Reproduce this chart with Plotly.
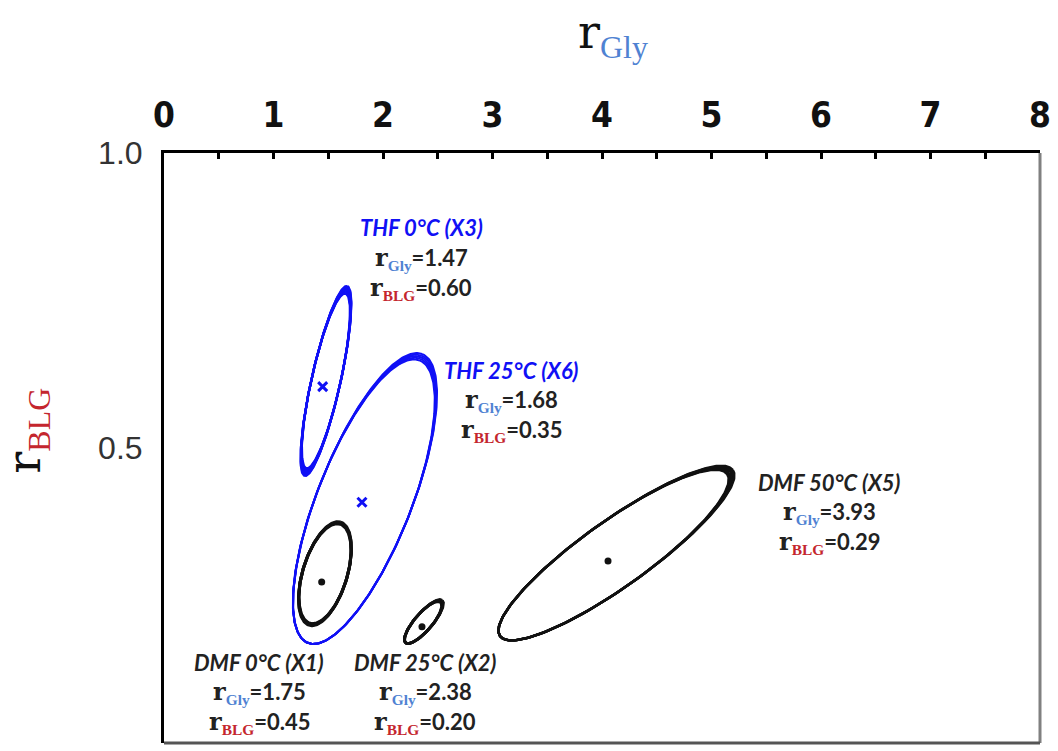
import numpy as np
import plotly.graph_objects as go

# ---------------- data ----------------
sample_names = ["THF 0°C (X3)", "THF 25°C (X6)", "DMF 0°C (X1)", "DMF 25°C (X2)", "DMF 50°C (X5)"]
solvent = ["THF", "THF", "DMF", "DMF", "DMF"]

# confidence-ellipse geometry (data units): centre, half major vector, half conjugate vector
ell_cx = [1.479, 1.836, 1.470, 2.374, 4.132]
ell_cy = [0.6136, 0.4144, 0.287, 0.2059, 0.322]
ell_major_dx = [0.1933, 0.5221, 0.1440, 0.1675, 1.0632]
ell_major_dy = [0.1609, 0.2448, 0.08745, 0.0360, 0.14075]
ell_minor_dx = [-0.1297, -0.3997, -0.1944, -0.0604, -0.1750]
ell_minor_dy = [0.00537, 0.02937, 0.01103, 0.00966, 0.04554]

# point estimates (marker positions)
point_x = [1.449, 1.808, 1.44, 2.356, 4.055]
point_y = [0.604, 0.408, 0.273, 0.197, 0.3085]

# printed reactivity ratios
r_gly = ["1.47", "1.68", "1.75", "2.38", "3.93"]
r_blg = ["0.60", "0.35", "0.45", "0.20", "0.29"]

x_ticks = [0, 1, 2, 3, 4, 5, 6, 7, 8]
y_ticks = [0.0, 0.5, 1.0]

# ---------------- styling ----------------
BLUE = "#1010f5"
BLACK = "#111111"
GLY_C = "#4f82d2"
BLG_C = "#c4262e"
TEXT_C = "#222222"

# band style per ellipse: (mode, min scale, n copies, line width)
band = [
    ("sym", 0.92, 8, 2.2),
    ("pivot", 0.978, 5, 2.0),
    ("sym", 0.96, 4, 3.0),
    ("pivot", 0.95, 5, 2.8),
    ("pivot", 0.975, 6, 2.4),
]

fig = go.Figure()
t = np.linspace(0, 2 * np.pi, 300)

for i in range(len(sample_names)):
    col = BLUE if solvent[i] == "THF" else BLACK
    mode, smin, n, lw = band[i]
    for s in np.linspace(smin, 1.0, n):
        if mode == "sym":
            cx, cy = ell_cx[i], ell_cy[i]
        else:
            cx = ell_cx[i] + (s - 1) * ell_major_dx[i]
            cy = ell_cy[i] + (s - 1) * ell_major_dy[i]
        xs = cx + s * ell_major_dx[i] * np.cos(t) + ell_minor_dx[i] * np.sin(t)
        ys = cy + s * ell_major_dy[i] * np.cos(t) + ell_minor_dy[i] * np.sin(t)
        fig.add_trace(go.Scatter(x=xs, y=ys, mode="lines",
                                 line=dict(color=col, width=lw),
                                 hoverinfo="skip", showlegend=False))

for i in range(len(sample_names)):
    if solvent[i] == "THF":
        mk = dict(symbol="x-thin-open", size=9, color=BLUE, line=dict(color=BLUE, width=3))
    else:
        mk = dict(symbol="circle", size=7, color=BLACK)
    fig.add_trace(go.Scatter(x=[point_x[i]], y=[point_y[i]], mode="markers",
                             marker=mk, showlegend=False, name=sample_names[i]))

# ---------------- annotations ----------------
SERIF = "DejaVu Serif, Liberation Serif, serif"
SANS = "Lato, Open Sans, sans-serif"

def rline(sub, color, val):
    return ('<b><span style="font-family:DejaVu Serif;font-size:24px">r</span>'
            f'<sub><span style="font-family:Liberation Serif;color:{color}">{sub}</span></sub>'
            f'={val}</b>')

# label block positions (x, y of title line) in data units
label_pos = [
    (2.347, 0.873),
    (3.178, 0.631),
    (0.868, 0.136),
    (2.385, 0.136),
    (6.082, 0.442),
]
line_gap = 0.051

for i in range(len(sample_names)):
    lx, ly = label_pos[i]
    col = BLUE if solvent[i] == "THF" else TEXT_C
    fig.add_annotation(x=lx, y=ly, xref="x", yref="y", showarrow=False,
                       text=f"<b><i>{sample_names[i]}</i></b>",
                       font=dict(family=SANS, size=22, color=col),
                       xanchor="center", yanchor="middle")
    fig.add_annotation(x=lx, y=ly - line_gap, xref="x", yref="y", showarrow=False,
                       text=rline("Gly", GLY_C, r_gly[i]),
                       font=dict(family=SANS, size=22, color=TEXT_C),
                       xanchor="center", yanchor="middle")
    fig.add_annotation(x=lx, y=ly - 2 * line_gap, xref="x", yref="y", showarrow=False,
                       text=rline("BLG", BLG_C, r_blg[i]),
                       font=dict(family=SANS, size=22, color=TEXT_C),
                       xanchor="center", yanchor="middle")

# axis titles
fig.add_annotation(x=0.512, y=1.2, xref="paper", yref="paper", showarrow=False,
                   text=('r<sub><span style="font-family:Liberation Serif;'
                         f'color:{GLY_C};font-size:32px">Gly</span></sub>'),
                   font=dict(family=SERIF, size=46, color="#111111"),
                   xanchor="center", yanchor="middle")
fig.add_annotation(x=-0.156, y=0.53, xref="paper", yref="paper", showarrow=False,
                   text=('r<sub><span style="font-family:Liberation Serif;'
                         f'color:{BLG_C};font-size:32px">BLG</span></sub>'),
                   textangle=-90,
                   font=dict(family=SERIF, size=46, color="#111111"),
                   xanchor="center", yanchor="middle")

# right and bottom frame lines (grey)
fig.add_shape(type="line", xref="paper", yref="paper", x0=1, x1=1, y0=0, y1=1,
              line=dict(color="#808080", width=3))
fig.add_shape(type="line", xref="paper", yref="paper", x0=0, x1=1, y0=0, y1=0,
              line=dict(color="#555555", width=3))

# the page body adds an 8px offset; size the figure so the plot area lands where the reference has it
fig.update_layout(
    width=1050, height=743,
    margin=dict(l=156, r=18, t=145, b=8),
    paper_bgcolor="white", plot_bgcolor="white",
    xaxis=dict(range=[0, 8], side="top", tickvals=x_ticks,
               ticktext=[f"<b>{v}</b>" for v in x_ticks],
               ticks="inside", ticklen=6, tickwidth=2.5, tickcolor="black",
               minor=dict(dtick=0.5, ticks="inside", ticklen=6, tickwidth=2.5, tickcolor="black"),
               showline=True, linecolor="black", linewidth=3,
               showgrid=False, zeroline=False,
               tickfont=dict(family="Liberation Sans Narrow, DejaVu Sans Condensed, Arial Narrow, sans-serif",
                             size=35, color="#111111"),
               ticklabelstandoff=9),
    yaxis=dict(range=[0, 1], tickvals=y_ticks, ticktext=[f"{v:.1f}" for v in y_ticks],
               ticks="", showline=True, linecolor="black", linewidth=3,
               showgrid=False, zeroline=False,
               tickfont=dict(family="Liberation Sans, Arial, sans-serif", size=32, color="#333333"),
               ticklabelstandoff=12),
)

fig.write_html("out.html")
